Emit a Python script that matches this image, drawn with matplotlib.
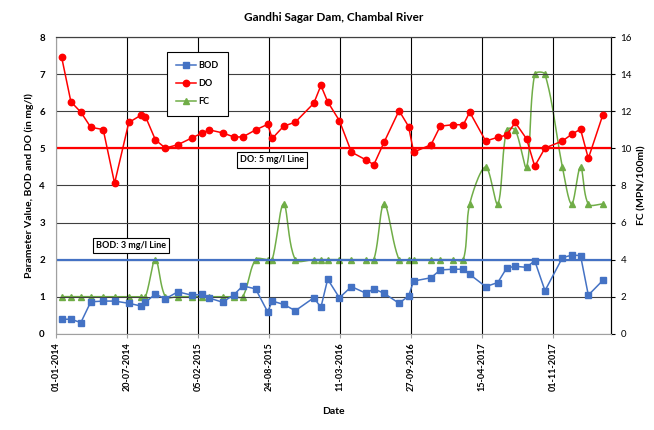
import numpy as np
import pandas as pd
import matplotlib
matplotlib.use('Agg')
import matplotlib.pyplot as plt
import matplotlib.dates as mdates

plt.rcParams['font.family'] = ['Lato', 'DejaVu Sans']

# sampling dates and readings
dates = ['2014-01-17', '2014-02-12', '2014-03-12', '2014-04-09', '2014-05-14',
         '2014-06-15', '2014-07-25', '2014-08-27', '2014-09-10', '2014-10-08',
         '2014-11-05', '2014-12-10', '2015-01-18', '2015-02-17', '2015-03-09',
         '2015-04-15', '2015-05-17', '2015-06-11', '2015-07-17', '2015-08-20',
         '2015-09-02', '2015-10-04', '2015-11-06', '2015-12-28', '2016-01-17',
         '2016-02-05', '2016-03-09', '2016-04-12', '2016-05-23', '2016-06-14',
         '2016-07-13', '2016-08-24', '2016-09-20', '2016-10-04', '2016-11-22',
         '2016-12-18', '2017-01-22', '2017-02-21', '2017-03-11', '2017-04-25',
         '2017-05-29', '2017-06-23', '2017-07-17', '2017-08-18', '2017-09-10',
         '2017-10-09', '2017-11-27', '2017-12-23', '2018-01-17', '2018-02-08',
         '2018-03-21']

bod = [0.39, 0.39, 0.30, 0.86, 0.88, 0.88, 0.82, 0.75, 0.85, 1.07,
       0.94, 1.13, 1.04, 1.06, 0.96, 0.85, 1.05, 1.29, 1.21, 0.59,
       0.88, 0.79, 0.62, 0.97, 0.71, 1.47, 0.97, 1.27, 1.09, 1.21,
       1.09, 0.82, 1.02, 1.42, 1.51, 1.72, 1.74, 1.74, 1.60, 1.27,
       1.38, 1.77, 1.82, 1.79, 1.97, 1.16, 2.05, 2.12, 2.11, 1.04,
       1.44]

do = [7.46, 6.26, 5.98, 5.57, 5.51, 4.06, 5.70, 5.89, 5.86, 5.23,
      5.01, 5.10, 5.28, 5.42, 5.50, 5.42, 5.31, 5.31, 5.50, 5.65,
      5.27, 5.60, 5.71, 6.22, 6.70, 6.26, 5.75, 4.90, 4.69, 4.56,
      5.17, 6.02, 5.59, 4.90, 5.10, 5.60, 5.64, 5.64, 5.98, 5.20,
      5.30, 5.36, 5.70, 5.26, 4.52, 5.01, 5.20, 5.38, 5.52, 4.73,
      5.91]

fc = [2, 2, 2, 2, 2, 2, 2, 2, 2, 4,
      2, 2, 2, 2, 2, 2, 2, 2, 4, 4,
      4, 7, 4, 4, 4, 4, 4, 4, 4, 4,
      7, 4, 4, 4, 4, 4, 4, 4, 7, 9,
      7, 11, 11, 9, 14, 14, 9, 7, 9, 7,
      7]

DO_LIMIT = 5
BOD_LIMIT = 2

BLUE = '#4472C4'
RED = '#FF0000'
GREEN = '#70AD47'


def smooth(x, y, sx=1.0, sy=1.0, n=24):
    # excel-like smoothed line: bezier through the points, handles scaled by
    # the neighbouring segment lengths (measured in screen units sx, sy)
    x = np.asarray(x, float)
    y = np.asarray(y, float)
    P = np.column_stack([x * sx, y * sy])
    P = np.vstack([P[0], P, P[-1]])
    t = np.linspace(0, 1, n)[:, None]
    out = []
    for i in range(1, len(P) - 2):
        p_prev, p0, p3, p_next = P[i - 1], P[i], P[i + 1], P[i + 2]
        d0 = np.hypot(*(p0 - p_prev))
        d1 = np.hypot(*(p3 - p0))
        d2 = np.hypot(*(p_next - p3))
        k1 = d1 / (d0 + d1) if d0 + d1 > 0 else 0
        k2 = d1 / (d1 + d2) if d1 + d2 > 0 else 0
        c1 = p0 + (p3 - p_prev) * k1 / 3
        c2 = p3 - (p_next - p0) * k2 / 3
        pts = ((1 - t) ** 3) * p0 + 3 * ((1 - t) ** 2) * t * c1 + 3 * (1 - t) * t ** 2 * c2 + t ** 3 * p3
        out.append(pts)
    out = np.vstack(out)
    return out[:, 0] / sx, out[:, 1] / sy


d = pd.to_datetime(dates)
xn = mdates.date2num(d)
start = pd.Timestamp('2014-01-01')

fig = plt.figure(figsize=(6.54, 4.30), dpi=100)
ax = fig.add_axes([0.0856, 0.224, 0.8482, 0.6893])
ax2 = ax.twinx()

# limit lines
ax.axhline(DO_LIMIT, color=RED, lw=1.6, zorder=2)
ax.axhline(BOD_LIMIT, color=BLUE, lw=1.6, zorder=2)

ax.plot(d, bod, color=BLUE, lw=1.1, marker='s', ms=4.3, label='BOD', zorder=4)
ax.plot(d, do, color=RED, lw=1.1, marker='o', ms=4.6, label='DO', zorder=4)

# px per day ~0.355, px per FC unit ~18.5
sxs, sys_ = smooth(xn, fc, sx=0.355, sy=18.5)
ax2.plot(sxs, sys_, color=GREEN, lw=1.1, zorder=3)
ax2.plot(xn, fc, color=GREEN, lw=0, marker='^', ms=4.8, zorder=3)
ax.plot([], [], color=GREEN, lw=1.1, marker='^', ms=4.8, label='FC')

ax.set_ylim(0, 8)
ax2.set_ylim(0, 16)
ax2.set_yticks(np.arange(0, 17, 2))
ax.set_yticks(np.arange(0, 9, 1))

ticks = [start + pd.Timedelta(days=200 * k) for k in range(8)]
ax.set_xticks(ticks)
ax.set_xticklabels([t.strftime('%d-%m-%Y') for t in ticks], rotation=90,
                   fontsize=6.5, fontweight='bold')
ax.set_xlim(start, start + pd.Timedelta(days=1562))

for lab in ax.get_yticklabels():
    lab.set_fontweight('bold')
ax.tick_params(axis='y', labelsize=7, length=0, pad=8)
ax.tick_params(axis='x', length=3, color='#a0a0a0', pad=3)
ax2.tick_params(axis='y', labelsize=7, length=3, pad=4)

ax.grid(axis='x', color='black', lw=0.8)
ax.grid(axis='y', color='#404040', lw=0.8)
ax.set_axisbelow(True)

for s in ['left', 'bottom']:
    ax.spines[s].set_color('#a0a0a0')
ax.spines['top'].set_color('#404040')
ax2.spines['left'].set_visible(False)
ax2.spines['bottom'].set_visible(False)
ax2.spines['top'].set_color('#404040')
ax2.spines['right'].set_color('black')

ax.set_title('Gandhi Sagar Dam, Chambal River', fontsize=8.5, fontweight='bold', pad=12)
ax.set_ylabel('Parameter Value, BOD and DO (in mg/l)', fontsize=7.5, fontweight='bold')
ax2.set_ylabel('FC (MPN/100ml)', fontsize=7.5, fontweight='bold')
ax.set_xlabel('Date', fontsize=7.5, fontweight='bold', labelpad=12)

box = dict(boxstyle='square,pad=0.35', fc='white', ec='black', lw=0.8)
ax.text(0.390, 0.586, 'DO: 5 mg/l Line', transform=ax.transAxes, ha='center', va='center',
        fontsize=6.5, fontweight='bold', bbox=box, zorder=6)
ax.text(0.135, 0.297, 'BOD: 3 mg/l Line', transform=ax.transAxes, ha='center', va='center',
        fontsize=6.5, fontweight='bold', bbox=box, zorder=6)

leg = ax.legend(loc='upper left', bbox_to_anchor=(0.2, 0.949), borderaxespad=0,
                fontsize=6.5, fancybox=False, edgecolor='black', framealpha=1,
                labelspacing=1.0, handlelength=2.2, borderpad=1.0, handletextpad=0.3)
leg.get_frame().set_linewidth(0.8)
for t in leg.get_texts():
    t.set_fontweight('bold')
ax.set_zorder(ax2.get_zorder() + 1)
ax.patch.set_visible(False)

fig.savefig('out.png', dpi=100)
